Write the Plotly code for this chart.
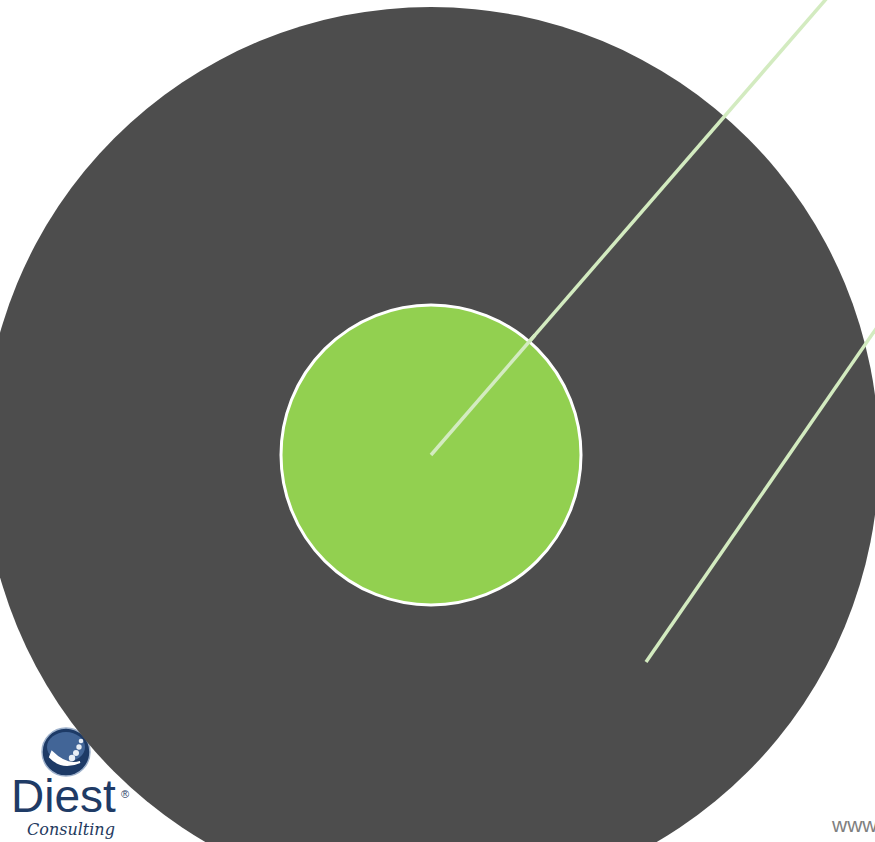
import plotly.graph_objects as go

# Content (text) of the slide
brand_name = "Diest"
brand_mark = "®"
brand_sub = "Consulting"
url_text = "www"

W, H = 875, 842

DARK = "#4d4d4d"
GREEN = "#92d050"
LIGHT_GREEN = "#d3ebc0"
NAVY = "#1f3b66"

fig = go.Figure()

shapes = []
# Logo mark (sits behind the big dark circle)
shapes.append(dict(type="circle", xref="x", yref="y", x0=42, x1=90, y0=728, y1=776,
                   fillcolor="#1d3a66", line=dict(color="#9fb2cc", width=1.5), layer="below"))
shapes.append(dict(type="circle", xref="x", yref="y", x0=47, x1=85, y0=732, y1=762,
                   fillcolor="#4f74a8", line=dict(width=0), opacity=0.75, layer="below"))
shapes.append(dict(type="path", xref="x", yref="y",
                   path="M 50 757 Q 62 770 80 762 Q 66 766 52 752 Z",
                   fillcolor="white", line=dict(color="white", width=2), layer="below"))
for cx, cy, r in [(72, 758, 3.2), (76, 753, 3.0), (79, 747, 2.7), (81, 741, 2.3)]:
    shapes.append(dict(type="circle", xref="x", yref="y", x0=cx - r, x1=cx + r,
                       y0=cy - r, y1=cy + r, fillcolor="#e8eef6", line=dict(width=0),
                       layer="below"))
# Big dark circle
shapes.append(dict(type="circle", xref="x", yref="y", x0=431 - 448, x1=431 + 448,
                   y0=455 - 448, y1=455 + 448, fillcolor=DARK, line=dict(width=0)))
# Light green line from center to top
shapes.append(dict(type="line", xref="x", yref="y", x0=431, y0=455, x1=827, y1=-2,
                   line=dict(color=LIGHT_GREEN, width=3.5)))
# Green inner circle with white border
shapes.append(dict(type="circle", xref="x", yref="y", x0=281, x1=581, y0=305, y1=605,
                   fillcolor=GREEN, line=dict(color="white", width=3)))
# Line portion drawn over the inner circle
shapes.append(dict(type="line", xref="x", yref="y", x0=431, y0=455, x1=535, y1=335,
                   line=dict(color=LIGHT_GREEN, width=3.5)))
# Second light green line
shapes.append(dict(type="line", xref="x", yref="y", x0=646, y0=662, x1=900, y1=294,
                   line=dict(color=LIGHT_GREEN, width=3.5)))

fig.update_layout(shapes=shapes)

annotations = [
    dict(x=9, y=796, xref="x", yref="y", text=brand_name, showarrow=False,
         xanchor="left", yanchor="middle",
         font=dict(family="Arial, Liberation Sans", size=46, color=NAVY)),
    dict(x=119, y=794, xref="x", yref="y", text=brand_mark, showarrow=False,
         xanchor="left", yanchor="middle",
         font=dict(family="Arial", size=11, color=NAVY)),
    dict(x=25, y=829, xref="x", yref="y", text="<i>" + brand_sub + "</i>", showarrow=False,
         xanchor="left", yanchor="middle",
         font=dict(family="DejaVu Serif", size=16, color="#243a5e")),
    dict(x=829, y=824, xref="x", yref="y", text=url_text, showarrow=False,
         xanchor="left", yanchor="middle",
         font=dict(family="Arial", size=21, color="#808080")),
]
fig.update_layout(annotations=annotations)

fig.update_layout(
    width=W, height=H,
    margin=dict(l=0, r=0, t=0, b=0),
    paper_bgcolor="white", plot_bgcolor="white",
    xaxis=dict(range=[0, W], visible=False, fixedrange=True),
    yaxis=dict(range=[H, 0], visible=False, fixedrange=True),
    showlegend=False,
)

fig.write_html(
    "out.html",
    config={"displayModeBar": False},
    post_script="document.body.style.margin='0';document.body.style.overflow='hidden';",
)
